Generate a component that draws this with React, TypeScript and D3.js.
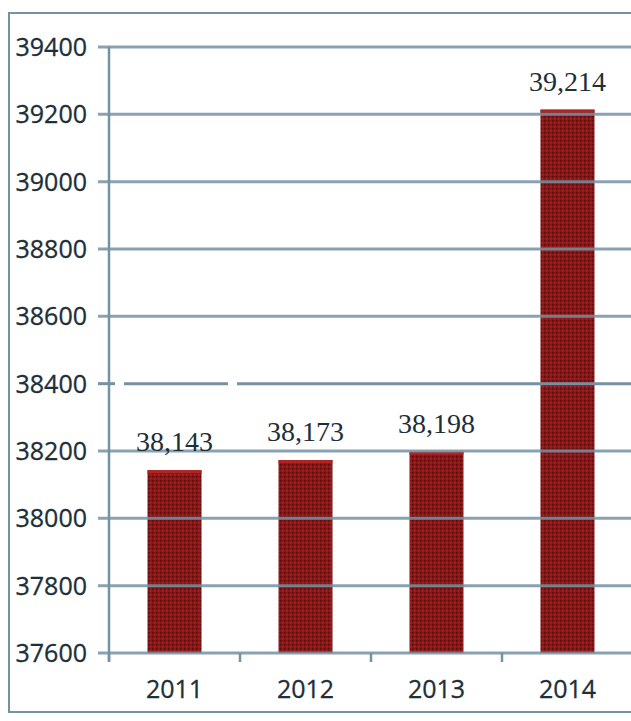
import React from "react";
import * as d3 from "d3";

const categories = ["2011", "2012", "2013", "2014"];
const values = [38143, 38173, 38198, 39214];
const valueLabels = ["38,143", "38,173", "38,198", "39,214"];
const yTicks = [37600, 37800, 38000, 38200, 38400, 38600, 38800, 39000, 39200, 39400];

const W = 631;
const H = 721;
const axisX = 109;
const plotTop = 47;
const plotBottom = 653;

export default function App() {
  const y = d3.scaleLinear().domain([37600, 39400]).range([plotBottom, plotTop]);
  const x = d3.scaleBand<string>().domain(categories).range([axisX, axisX + 131 * 4]).padding(0);
  const bw = x.bandwidth();
  const barW = 54;
  const gridColor = "#7592a2";
  const textColor = "#1d2f38";
  const boundaries = d3.range(categories.length + 1).map((i) => axisX + i * bw);

  return (
    <svg width={W} height={H} style={{ position: "absolute", left: 0, top: 0, background: "#fff" }}>
      <defs>
        <pattern id="tex" width="4" height="4" patternUnits="userSpaceOnUse">
          <rect width="4" height="4" fill="#831818" />
          <rect x="0" y="0" width="1.5" height="1.5" fill="#5a0e10" />
          <rect x="2" y="2" width="1.5" height="1.5" fill="#ad2626" />
        </pattern>
      </defs>
      {/* outer frame */}
      <rect x={9} y={13} width={W + 20} height={699} fill="none" stroke={gridColor} strokeWidth={2} />
      {/* bars */}
      {values.map((v, i) => {
        const cx = (x(categories[i]) as number) + bw / 2;
        return (
          <g key={categories[i]}>
            <rect x={cx - barW / 2} y={y(v)} width={barW} height={plotBottom - y(v)} fill="url(#tex)" />
            <rect x={cx - barW / 2} y={y(v)} width={barW} height={3} fill="#b02424" />
          </g>
        );
      })}
      {/* gridlines */}
      {yTicks.map((t) =>
        t === 38400 ? (
          <g key={t}>
            <line x1={98} x2={115} y1={y(t)} y2={y(t)} stroke={gridColor} strokeWidth={3} />
            <line x1={124} x2={228} y1={y(t)} y2={y(t)} stroke={gridColor} strokeWidth={3} />
            <line x1={237} x2={W} y1={y(t)} y2={y(t)} stroke={gridColor} strokeWidth={3} />
          </g>
        ) : (
          <line key={t} x1={98} x2={W} y1={y(t)} y2={y(t)} stroke={gridColor} strokeWidth={3} strokeOpacity={0.85} />
        )
      )}
      {/* y axis */}
      <line x1={axisX} x2={axisX} y1={plotTop} y2={plotBottom + 8} stroke={gridColor} strokeWidth={2.5} />
      {/* x ticks */}
      {boundaries.map((b, i) => (
        <line key={i} x1={b} x2={b} y1={plotBottom} y2={plotBottom + 9} stroke={gridColor} strokeWidth={2.5} />
      ))}
      {/* y tick labels */}
      {yTicks.map((t) => (
        <text key={t} x={87} y={y(t)} dy="0.36em" textAnchor="end" fontFamily="Open Sans" fontSize={25} fill={textColor} stroke={textColor} strokeWidth={0.3}>
          {t}
        </text>
      ))}
      {/* labels */}
      {values.map((v, i) => {
        const cx = (x(categories[i]) as number) + bw / 2;
        return (
          <g key={categories[i]}>
            <text x={cx} y={y(v) - 19} textAnchor="middle" fontFamily="Liberation Serif" fontSize={28} fill={textColor}>
              {valueLabels[i]}
            </text>
            <text x={cx} y={698} textAnchor="middle" fontFamily="Open Sans" fontSize={25} fill={textColor} stroke={textColor} strokeWidth={0.3}>
              {categories[i]}
            </text>
          </g>
        );
      })}
    </svg>
  );
}
